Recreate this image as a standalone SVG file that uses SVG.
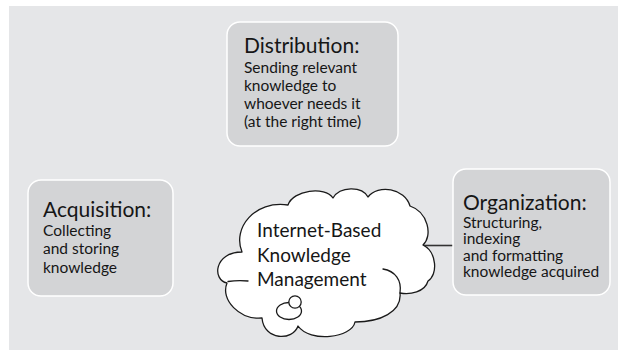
<svg xmlns="http://www.w3.org/2000/svg" width="618" height="355" viewBox="0 0 618 355">
  <style>
    .panel { fill: #e5e6e8; }
    .box { fill: #d3d4d6; stroke: #ffffff; stroke-width: 1.5; }
    .title { font-family: Lato, "Liberation Sans", sans-serif; font-size: 21px; fill: #161616; }
    .body { font-family: Lato, "Liberation Sans", sans-serif; font-size: 15.5px; fill: #161616; }
    .cloud { fill: #ffffff; stroke: #1a1a1a; stroke-width: 1.3; stroke-linejoin: round; }
    .curl { fill: none; stroke: #1a1a1a; stroke-width: 1.3; stroke-linecap: round; }
    .cloudtext { font-family: Lato, "Liberation Sans", sans-serif; font-size: 19px; fill: #161616; }
    .link { stroke: #333333; stroke-width: 1.6; fill: none; }
  </style>

  <rect class="panel" x="9" y="6" width="609" height="344"/>

  <g id="connectors">
    <line class="link" x1="423" y1="245.5" x2="453" y2="245.5"/>
  </g>

  <g id="distribution">
    <rect class="box" x="227" y="22" width="171" height="124" rx="13"/>
    <text class="title" x="244" y="53">Distribution:</text>
    <text class="body" x="244" y="72.5">Sending relevant</text>
    <text class="body" x="244" y="90.5">knowledge to</text>
    <text class="body" x="244" y="109">whoever needs it</text>
    <text class="body" x="244" y="127">(at the right time)</text>
  </g>

  <g id="acquisition">
    <rect class="box" x="28" y="180" width="145" height="116" rx="13"/>
    <text class="title" x="43" y="217">Acquisition:</text>
    <text class="body" x="43" y="235.5">Collecting</text>
    <text class="body" x="43" y="254">and storing</text>
    <text class="body" x="43" y="272.5">knowledge</text>
  </g>

  <g id="organization">
    <rect class="box" x="453" y="169" width="157" height="126" rx="13"/>
    <text class="title" x="463" y="209.5">Organization:</text>
    <text class="body" x="463" y="227.5">Structuring,</text>
    <text class="body" x="463" y="244">indexing</text>
    <text class="body" x="463" y="260.5">and formatting</text>
    <text class="body" x="463" y="277">knowledge acquired</text>
  </g>

  <g id="knowledge-management">
    <!-- scalloped cloud outline -->
    <path class="cloud" d="M 242,252
      C 232,228 255,200 288,205
      C 293,190 325,186 333,198
      C 340,186 362,186 368,197
      C 378,184 405,188 410,206
      C 428,212 433,236 423,245
      C 437,252 438,275 428,281
      C 425,292 410,295 400,293
      C 402,312 380,322 355,322
      C 352,338 310,343 298,326
      C 293,341 264,341 262,318
      C 240,320 220,300 227,283
      C 212,280 214,252 242,252 Z"/>
    <!-- inner strokes of the cloud -->
    <path class="curl" d="M 228,281.5 Q 238,280 248,281"/>
    <path class="curl" d="M 383,269 C 395,271 402,280 400,293"/>
    <!-- thought bubbles -->
    <ellipse class="cloud" cx="289" cy="311" rx="12.5" ry="8.5"/>
    <circle class="cloud" cx="295" cy="302" r="6.2"/>
    <text class="cloudtext" x="257" y="237">Internet-Based</text>
    <text class="cloudtext" x="257" y="261.5">Knowledge</text>
    <text class="cloudtext" x="257" y="286">Management</text>
  </g>
</svg>
